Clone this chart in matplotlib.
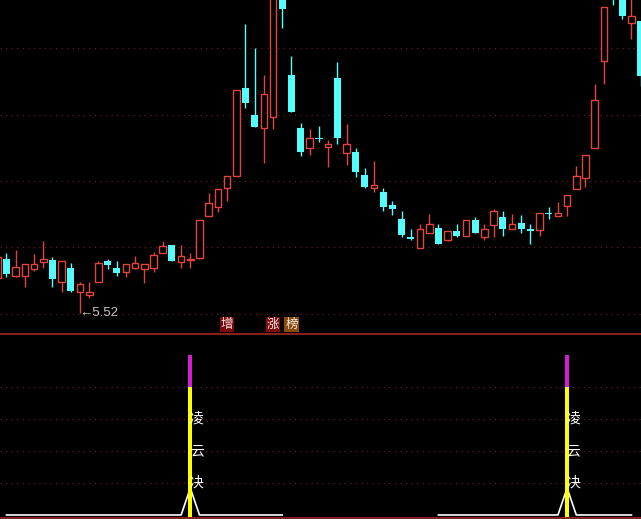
import matplotlib.pyplot as plt
from matplotlib.lines import Line2D
import numpy as np

# daily candles, first one is cut at the left edge
days = list(range(-1, 70))
opens = [6.04, 6.33, 6.07, 6.07, 6.18, 6.28, 6.31, 5.98, 6.19, 5.83, 5.79, 5.98, 6.30, 6.19, 6.13,
         6.19, 6.18, 6.19, 6.42, 6.54, 6.28, 6.31, 6.34, 6.97, 7.11, 7.39, 7.58, 8.90, 8.49, 8.30,
         8.46, 10.30, 9.09, 8.30, 8.00, 8.15, 8.01, 9.05, 7.92, 7.94, 7.59, 7.39, 7.33, 7.14, 6.93,
         6.66, 6.49, 6.72, 6.79, 6.61, 6.75, 6.67, 6.91, 6.66, 6.84, 6.96, 6.78, 6.87, 6.78, 6.76,
         7.02, 6.97, 7.12, 7.38, 7.55, 8.00, 9.30, 10.60, 10.30, 9.88, 9.91]
closes = [6.36, 6.10, 6.21, 6.25, 6.25, 6.33, 6.03, 6.30, 5.85, 5.95, 5.83, 6.27, 6.24, 6.12, 6.25,
          6.27, 6.25, 6.39, 6.52, 6.30, 6.37, 6.33, 6.91, 7.17, 7.38, 7.58, 8.87, 8.67, 8.31, 8.81,
          10.45, 10.09, 8.54, 7.94, 8.15, 8.13, 8.06, 8.15, 8.06, 7.64, 7.41, 7.44, 7.11, 7.08, 6.69,
          6.63, 6.78, 6.85, 6.55, 6.75, 6.67, 6.91, 6.72, 6.78, 7.05, 6.78, 6.85, 6.78, 6.75, 7.02,
          7.00, 7.02, 7.29, 7.58, 7.89, 8.72, 10.12, 10.35, 9.98, 9.98, 9.08]
highs = [6.36, 6.42, 6.46, 6.25, 6.40, 6.60, 6.36, 6.30, 6.27, 5.98, 5.98, 6.30, 6.33, 6.30, 6.25,
         6.37, 6.25, 6.43, 6.60, 6.54, 6.54, 6.42, 6.91, 7.32, 7.38, 7.58, 8.87, 9.86, 9.50, 9.09,
         10.60, 10.50, 9.38, 8.37, 8.28, 8.33, 8.12, 9.29, 8.36, 8.00, 7.70, 7.80, 7.39, 7.20, 7.05,
         6.78, 6.85, 7.00, 6.85, 6.75, 6.85, 6.91, 6.96, 6.85, 7.08, 7.05, 7.00, 6.99, 6.85, 7.02,
         7.11, 7.18, 7.29, 7.73, 7.89, 8.96, 10.12, 10.70, 10.40, 10.30, 9.91]
lows = [6.04, 6.06, 6.06, 5.91, 6.15, 6.19, 5.91, 5.83, 5.83, 5.52, 5.74, 5.98, 6.18, 6.07, 6.06,
        6.18, 5.97, 6.13, 6.42, 6.30, 6.19, 6.19, 6.33, 6.97, 7.03, 7.20, 7.58, 8.60, 8.31, 7.77,
        8.28, 9.80, 8.54, 7.88, 7.89, 8.09, 7.71, 8.06, 7.74, 7.56, 7.39, 7.33, 7.05, 6.99, 6.66,
        6.61, 6.49, 6.72, 6.55, 6.60, 6.66, 6.67, 6.72, 6.61, 6.66, 6.67, 6.78, 6.72, 6.55, 6.67,
        6.93, 6.97, 6.97, 7.38, 7.41, 8.00, 8.96, 10.15, 9.94, 9.64, 8.93]
low_day, low_price = 8, 5.52
price_grid = [5.5, 6.5, 7.5, 8.5, 9.5]

# tags under the candles
tag_days = [24, 29, 31]
tag_texts = ["增", "涨", "榜"]
tag_colors = ["#7d0a0a", "#7d0a0a", "#8a4a08"]

# indicator panel
signal_days = [20, 61]
signal_labels = ["凌", "云", "决"]
seg1_days = [0, 19, 20, 21, 30]
seg1_vals = [0, 0, 0.84, 0, 0]
seg2_days = [47, 60, 61, 62, 68]
seg2_vals = [0, 0, 0.84, 0, 0]
ind_grid = [1, 2, 3, 4]

RED = "#e0453f"
CYAN = "#54fcfc"
GRID = "#6e2222"

fig = plt.figure(figsize=(6.41, 5.19), dpi=100, facecolor="black")
ax = fig.add_axes([0, 186 / 519, 1, 333 / 519], facecolor="black")
ax2 = fig.add_axes([0, 1 / 519, 1, 183 / 519], facecolor="black")

for g in price_grid:
    ax.axhline(g, color=GRID, lw=0.8, ls=(0, (1, 4)), zorder=0)

w = 0.72
for d, o, h, l, c in zip(days, opens, highs, lows, closes):
    if c >= o:
        ax.vlines(d, l, o, color=RED, lw=1, zorder=2)
        ax.vlines(d, c, h, color=RED, lw=1, zorder=2)
        ax.bar(d, max(c - o, 0.01), bottom=o, width=w, facecolor="black",
               edgecolor=RED, linewidth=1, zorder=3)
    else:
        ax.vlines(d, l, h, color=CYAN, lw=1, zorder=2)
        ax.bar(d, o - c, bottom=c, width=w + 0.05, color=CYAN, linewidth=0, zorder=3)

ax.text(low_day - 0.1, low_price - 0.01, "←5.52", color="#c8c8c8", fontsize=9.5,
        family=["Liberation Sans", "DejaVu Sans"], ha="left", va="center")

for d, t, col in zip(tag_days, tag_texts, tag_colors):
    ax.text(d, 0.006, t, transform=ax.get_xaxis_transform(), color="#f4e8e8", fontsize=9,
            family=["Noto Sans CJK SC", "DejaVu Sans"], ha="center", va="bottom",
            bbox=dict(boxstyle="square,pad=0.08", facecolor=col, edgecolor="none"))

ax.set_xlim(-0.707, 69.04)
ax.set_ylim(5.214, 10.222)
ax.axis("off")

# lower indicator
for g in ind_grid:
    ax2.axhline(g, color=GRID, lw=0.8, ls=(0, (1, 4)), zorder=0)

ax2.plot(seg1_days, seg1_vals, color="white", lw=1.2, zorder=2)
ax2.plot(seg2_days, seg2_vals, color="white", lw=1.2, zorder=2)
for d in signal_days:
    ax2.bar(d, 4.1, bottom=-0.1, width=0.4, color="#ffff00", zorder=3)
    ax2.bar(d, 1, bottom=4, width=0.4, color="#d21ed2", zorder=3)
    for lvl, s in zip([3, 2, 1], signal_labels):
        ax2.text(d - 0.05, lvl, s, color="white", fontsize=10,
                 family=["Noto Sans CJK SC", "DejaVu Sans"], ha="left", va="center", zorder=4)

ax2.set_xlim(-0.707, 69.04)
ax2.set_ylim(-0.094, 5.625)
ax2.axis("off")

fig.add_artist(Line2D([0, 1], [1 - 334 / 519] * 2, transform=fig.transFigure,
                      color="#8c2020", lw=1.4))
fig.add_artist(Line2D([0, 1], [1 - 517.5 / 519] * 2, transform=fig.transFigure,
                      color="#8c2020", lw=1.4))

fig.savefig("out.png", dpi=100, facecolor="black")
